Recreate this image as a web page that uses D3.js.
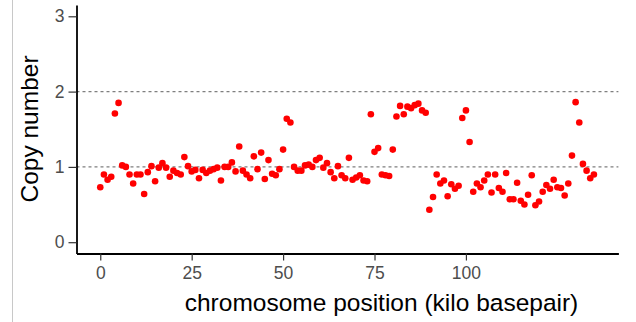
<!DOCTYPE html>
<html>
  <head>
    <meta charset="utf-8">
    <script type="text/javascript" src="https://d3js.org/d3.v7.min.js"></script>
  </head>
  <style>
        body {
          margin: 0;
          background: #fff;
          font-family: "Liberation Sans", Arial, sans-serif;
        }
        .tick text {
          fill: #4d4d4d;
          font-size: 17.5px;
          font-family: "Liberation Sans", Arial, sans-serif;
        }
        .tick line {
          stroke: #333;
          stroke-width: 1.2;
        }
        .domain {
          stroke: #000;
          stroke-width: 1.8;
        }
  </style>
  <body>
    <script type="text/javascript">
        //copy number per position (position = index, kilo basepair)
        var copyNumber = [
            0.73, 0.90, 0.83, 0.87, 1.71, 1.85, 1.02, 1.00, 0.90, 0.78,
            0.90, 0.90, 0.64, 0.93, 1.01, 0.81, 0.99, 1.05, 0.99, 0.87,
            0.95, 0.92, 0.90, 1.13, 1.01, 0.94, 0.96, 0.85, 0.96, 0.92,
            0.95, 0.97, 0.99, 0.82, 1.00, 1.00, 1.06, 0.94, 1.27, 0.95,
            0.90, 0.85, 1.14, 0.97, 1.19, 0.84, 1.09, 0.91, 0.89, 0.97,
            1.23, 1.64, 1.59, 1.00, 0.95, 0.95, 1.02, 1.03, 1.00, 1.09,
            1.12, 0.99, 1.05, 0.93, 0.85, 1.01, 0.89, 0.85, 1.12, 0.83,
            0.86, 0.89, 0.82, 0.81, 1.70, 1.20, 1.25, 0.90, 0.89, 0.88,
            1.23, 1.67, 1.81, 1.70, 1.80, 1.78, 1.82, 1.84, 1.75, 1.72,
            0.43, 0.60, 0.90, 0.78, 0.82, 0.61, 0.77, 0.71, 0.75, 1.65,
            1.75, 1.33, 0.67, 0.78, 0.73, 0.82, 0.90, 0.66, 0.90, 0.72,
            0.67, 0.92, 0.57, 0.57, 0.79, 0.55, 0.50, 0.63, 0.89, 0.49,
            0.54, 0.67, 0.76, 0.71, 0.83, 0.73, 0.72, 0.62, 0.78, 1.15,
            1.86, 1.59, 1.04, 0.95, 0.85, 0.90
        ];
        var xTicks = [0, 25, 50, 75, 100];
        var yTicks = [0, 1, 2, 3];
        var refLines = [1, 2];

        var width = 636,
            height = 322;

        var svg = d3.select("body").append("svg")
                    .attr("width", width)
                    .attr("height", height);

        //faint border line from the screenshot
        svg.append("line")
            .attr("x1", 12.5).attr("x2", 12.5)
            .attr("y1", 0).attr("y2", height)
            .attr("stroke", "#c8c8c8")
            .attr("stroke-width", 1);

        //scales (ggplot style 5% padding)
        var x = d3.scaleLinear().domain([-6.5, 141.7]).range([76.5, 618.4]);
        var y = d3.scaleLinear().domain([-0.15, 3.15]).range([253.5, 5]);

        //dashed reference lines
        svg.append("g")
            .selectAll("line")
            .data(refLines)
            .enter()
            .append("line")
            .attr("x1", x.range()[0])
            .attr("x2", x.range()[1])
            .attr("y1", function(d) { return y(d); })
            .attr("y2", function(d) { return y(d); })
            .attr("stroke", "#7f7f7f")
            .attr("stroke-width", 1.1)
            .attr("stroke-dasharray", "3,3");

        //points
        svg.append("g")
            .selectAll("circle")
            .data(copyNumber)
            .enter()
            .append("circle")
            .attr("cx", function(d, i) { return x(i); })
            .attr("cy", function(d) { return y(d); })
            .attr("r", 3.3)
            .attr("fill", "#ff0000");

        //axes
        svg.append("g")
            .attr("transform", "translate(0," + y.range()[0] + ")")
            .call(d3.axisBottom(x).tickValues(xTicks).tickFormat(d3.format("d"))
                .tickSize(7).tickSizeOuter(0).tickPadding(6));

        svg.append("g")
            .attr("transform", "translate(" + x.range()[0] + ",0)")
            .call(d3.axisLeft(y).tickValues(yTicks).tickFormat(d3.format("d"))
                .tickSize(8).tickSizeOuter(0).tickPadding(4));

        //axis titles
        svg.append("text")
            .attr("x", 381.5)
            .attr("y", 311)
            .attr("text-anchor", "middle")
            .attr("fill", "#000")
            .style("font-size", "24.5px")
            .text("chromosome position (kilo basepair)");

        svg.append("text")
            .attr("transform", "translate(38,129) rotate(-90)")
            .attr("text-anchor", "middle")
            .attr("fill", "#000")
            .style("font-size", "24.5px")
            .text("Copy number");
    </script>
  </body>
</html>
